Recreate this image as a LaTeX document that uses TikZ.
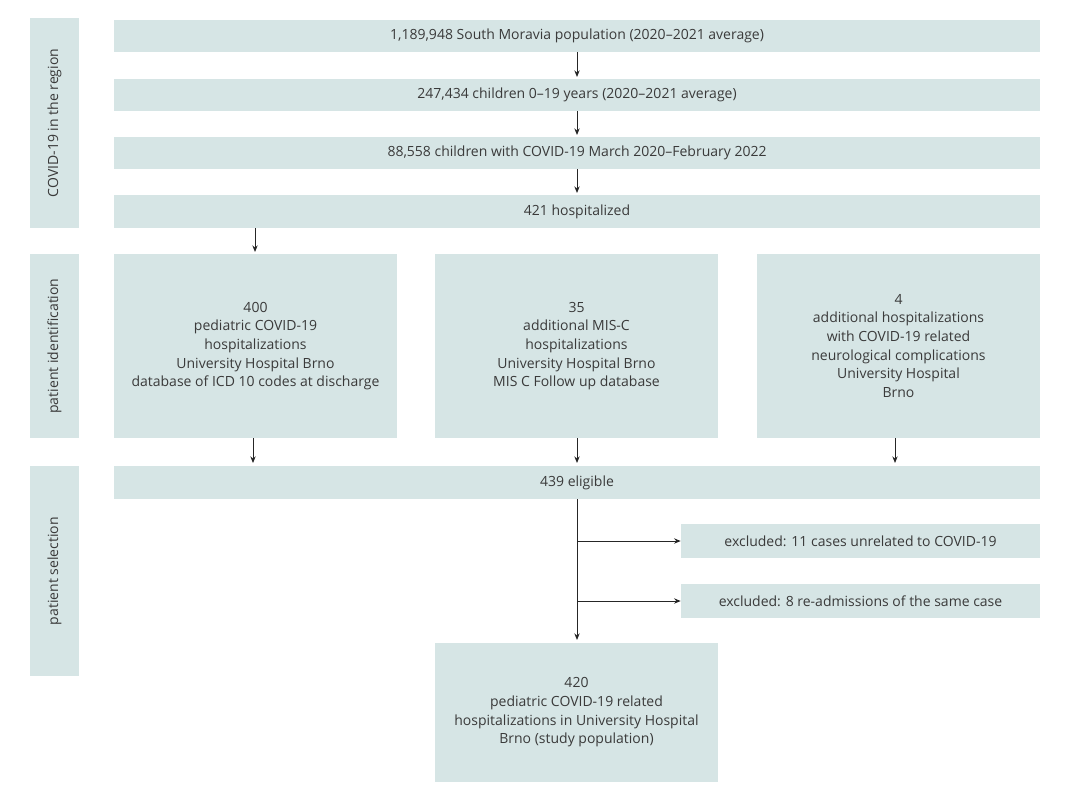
\documentclass[tikz,border=0pt]{standalone}
\usepackage{fontspec}
\setmainfont{Open Sans}
\usetikzlibrary{arrows.meta}
\definecolor{bx}{HTML}{D6E5E5}
\definecolor{tx}{HTML}{3A3A3A}
\begin{document}
\begin{tikzpicture}[x=0.75pt,y=-0.75pt,
  box/.style={fill=bx,draw=none,text=tx,font=\fontsize{10.5}{14}\selectfont,align=center,inner sep=0pt},
  arr/.style={-{Stealth[length=5pt,width=4pt]},line width=0.7pt,color=black!85}]
\useasboundingbox (0,0) rectangle (1071,800);
\newcommand\bx[6]{\node[box,minimum width={(#4-#2)*0.75pt},minimum height={(#5-#3)*0.75pt}] (#1) at ({(#2+#4)/2},{(#3+#5)/2}) {#6};}
\newcommand\sidebx[5]{\node[box,rotate=90,minimum width={(#4-#3)*0.75pt},minimum height={49*0.75pt}] (#1) at (54.5,{(#3+#4)/2}) {#5};}
\sidebx{s1}{}{18}{228}{COVID-19 in the region}
\sidebx{s2}{}{254}{438}{patient identification}
\sidebx{s3}{}{466}{676}{patient selection}
\bx{r1}{114}{20}{1040}{52}{1,189,948 South Moravia population (2020–2021 average)}
\bx{r2}{114}{79}{1040}{111}{247,434 children 0–19 years (2020–2021 average)}
\bx{r3}{114}{137}{1040}{169}{88,558 children with COVID-19 March 2020–February 2022}
\bx{r4}{114}{195}{1040}{228}{421 hospitalized}
\bx{a}{114}{254}{397}{438}{400\\pediatric COVID-19\\hospitalizations\\University Hospital Brno\\database of ICD 10 codes at discharge}
\bx{b}{435}{254}{718}{438}{35\\additional MIS-C\\hospitalizations\\University Hospital Brno\\MIS C Follow up database}
\bx{c}{757}{254}{1040}{438}{4\\additional hospitalizations\\with COVID-19 related\\neurological complications\\University Hospital\\Brno}
\bx{e}{114}{466}{1040}{499}{439 eligible}
\bx{x1}{681}{524}{1040}{558}{excluded: 11 cases unrelated to COVID-19}
\bx{x2}{681}{584}{1040}{618}{excluded: 8 re-admissions of the same case}
\bx{f}{435}{643}{718}{782}{420\\pediatric COVID-19 related\\hospitalizations in University Hospital\\Brno (study population)}
\draw[arr] (577,52) -- (577,77);
\draw[arr] (577,111) -- (577,135);
\draw[arr] (577,169) -- (577,193);
\draw[arr] (255,228) -- (255,252);
\draw[arr] (253,438) -- (253,463);
\draw[arr] (577,438) -- (577,463);
\draw[arr] (895,438) -- (895,463);
\draw[arr] (577,499) -- (577,640);
\coordinate (j1) at (577,541); \coordinate (j2) at (577,601);
\draw[arr] (j1) -- (x1.west);
\draw[arr] (j2) -- (x2.west);
\end{tikzpicture}
\end{document}
